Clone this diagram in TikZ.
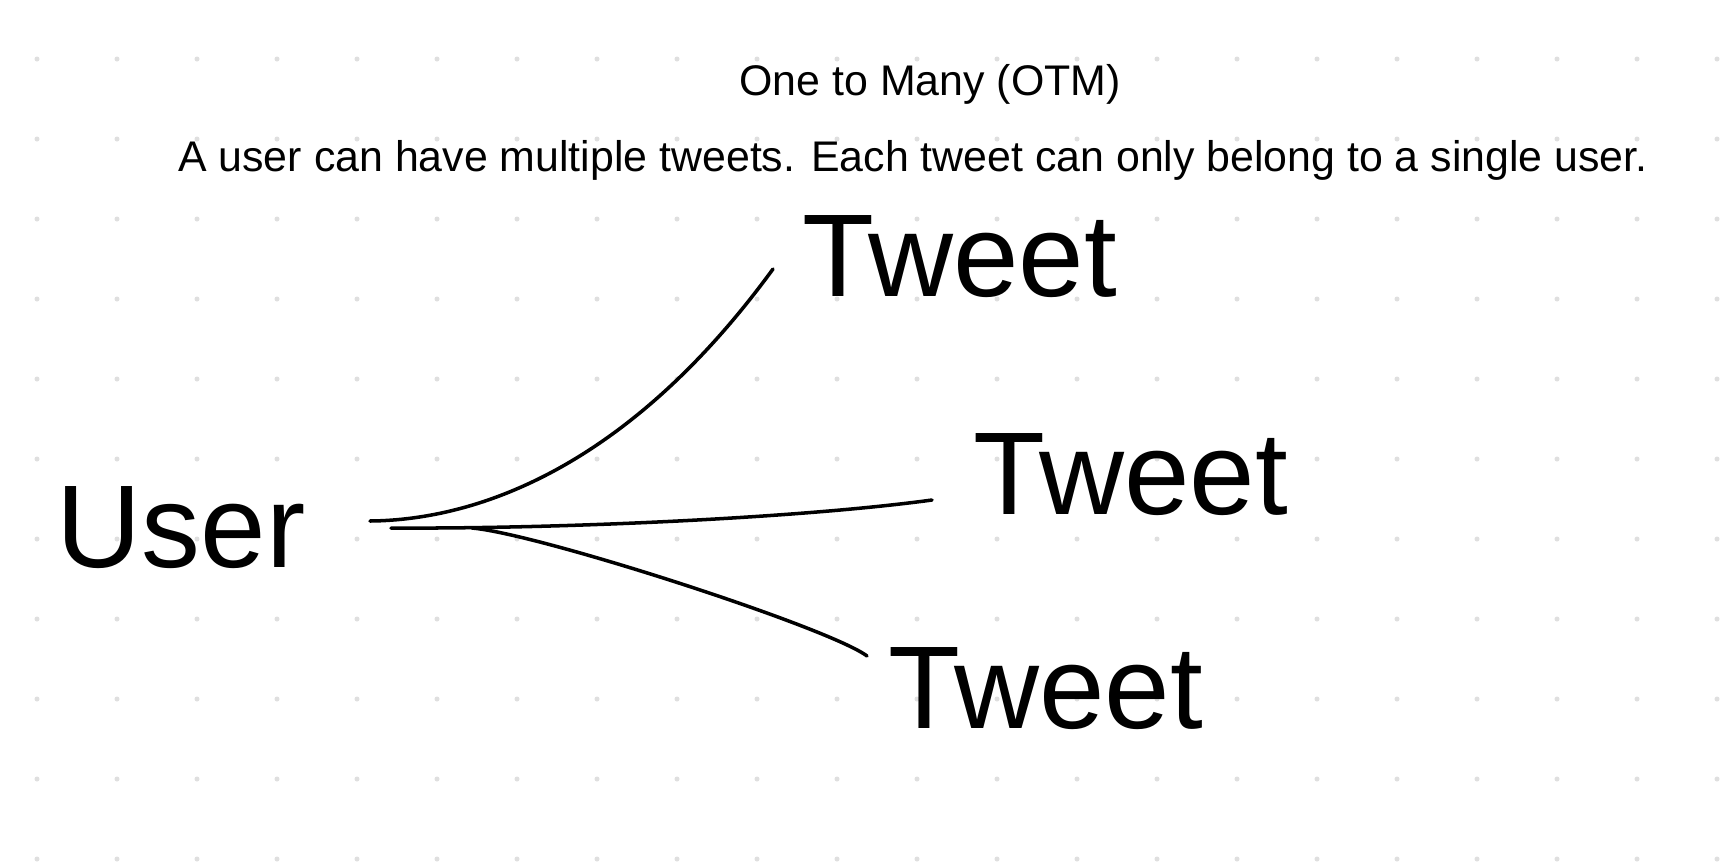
\documentclass[tikz,border=0pt]{standalone}
\usepackage{fontspec}
\setmainfont{Liberation Sans}
\usetikzlibrary{positioning}

\begin{document}
\begin{tikzpicture}[x=0.02cm, y=-0.02cm, line width=2pt,
    big/.style={font=\fontsize{67}{70}\selectfont, inner sep=0pt, anchor=base west},
    small/.style={font=\fontsize{24.4}{28}\selectfont, inner sep=0pt, anchor=base},
    link/.style={line cap=round, black}]
        \useasboundingbox[fill=white] (0,0) rectangle (1720,866);

        % Grid dots
        \foreach \gx in {0,...,21} {
            \foreach \gy in {0,...,10} {
                \fill[gray!25] (37+80*\gx, 59+80*\gy) circle (2.5);
            }
        }

        % Headings
        \node[small] (title) at (930,95) {One to Many (OTM)};
        \node[small] (desc) at (913,171) {A user can have multiple tweets. Each tweet can only belong to a single user.};

        % Entities
        \node[big] (user) at (55,567) {User};
        \node[big] (tweetA) at (801,296) {Tweet};
        \node[big] (tweetB) at (972,514) {Tweet};
        \node[big] (tweetC) at (887,728) {Tweet};

        % Connector ends
        \coordinate (startA) at (370,521);
        \coordinate (startB) at (391,528);
        \coordinate (startC) at (472,528);
        \coordinate (endA) at (773,269);
        \coordinate (endB) at (932,500);
        \coordinate (endC) at (867,656);

        % Hand drawn links
        \draw[link] (startA) .. controls (480,520) and (630,465) .. (endA);
        \draw[link] (startB) .. controls (560,529) and (800,518) .. (endB);
        \draw[link] (startC) .. controls (540,534) and (830,628) .. (endC);
    \end{tikzpicture}
\end{document}
